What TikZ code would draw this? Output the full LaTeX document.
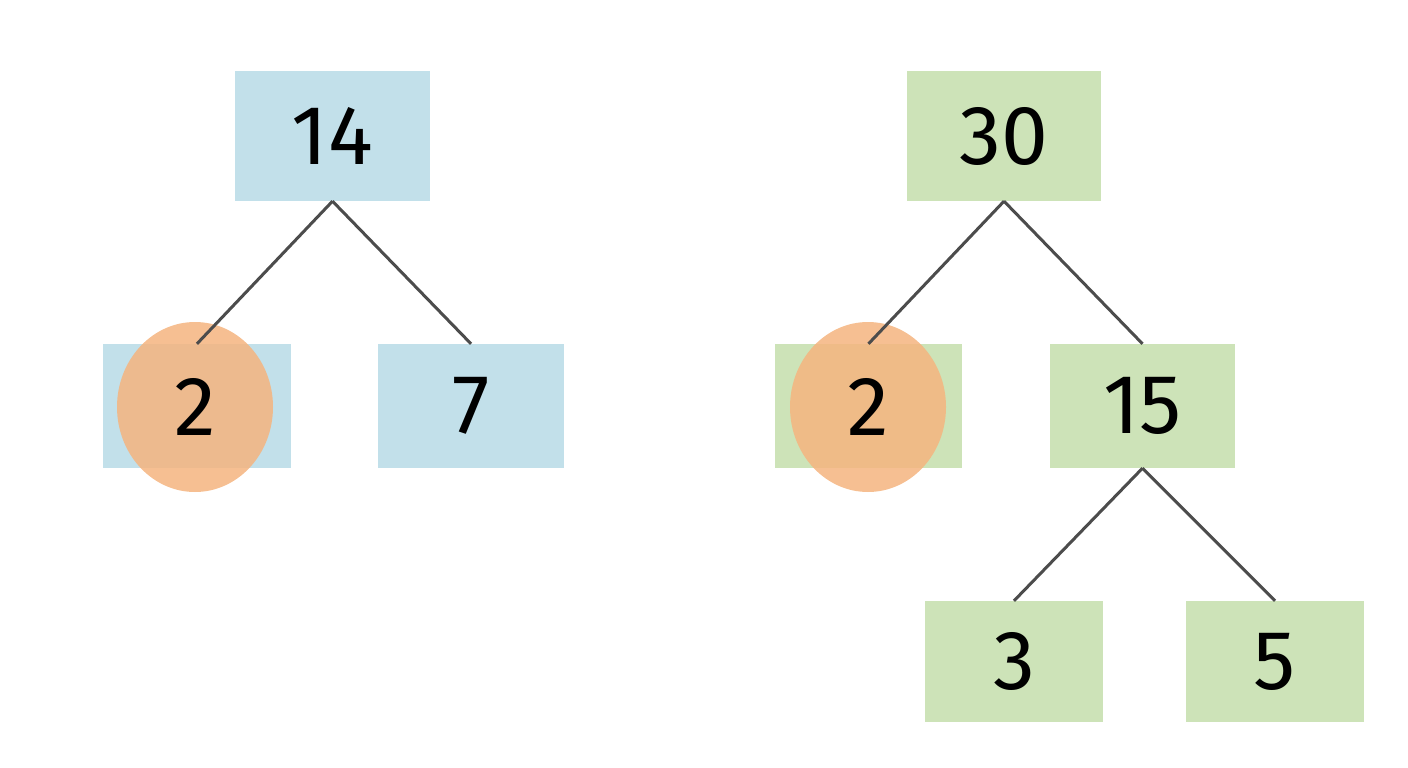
\documentclass[tikz,border=0pt]{standalone}
\usepackage{fontspec}
\setmainfont{Fira Sans}
\usetikzlibrary{shapes.geometric}
\begin{document}
\begin{tikzpicture}[x=1pt,y=-1pt,
  box/.style={draw=none,inner sep=0pt,font=\fontsize{84}{84}\selectfont},
  bl/.style={box,fill=blueB},
  gr/.style={box,fill=greenB},
  hl/.style={fill=orangeC,fill opacity=0.85,draw=none},
  edge/.style={draw=gray!60!black,line width=3pt}]
\definecolor{blueB}{HTML}{C2E0EA}
\definecolor{greenB}{HTML}{CDE3B8}
\definecolor{orangeC}{HTML}{F5B47F}
\path[use as bounding box] (0,0) rectangle (1408,768);
\node[bl,minimum width=195pt,minimum height=130pt] (a) at (332.5,136) {14};
\node[bl,minimum width=188pt,minimum height=124pt] (a2) at (197,406) {};
\node[bl,minimum width=186pt,minimum height=124pt] (a7) at (471,406) {7};
\node[gr,minimum width=194pt,minimum height=130pt] (b) at (1004,136) {30};
\node[gr,minimum width=187pt,minimum height=124pt] (b2) at (868.5,406) {};
\node[gr,minimum width=185pt,minimum height=124pt] (b15) at (1142.5,406) {15};
\node[gr,minimum width=178pt,minimum height=121pt] (b3) at (1014,661.5) {3};
\node[gr,minimum width=178pt,minimum height=121pt] (b5) at (1275,661.5) {5};
\node[hl,ellipse,minimum width=156pt,minimum height=170pt,inner sep=0pt] (c1) at (195,407) {};
\node[hl,ellipse,minimum width=156pt,minimum height=170pt,inner sep=0pt] (c2) at (868,407) {};
\node[box] (t1) at (c1) {2};
\node[box] (t2) at (c2) {2};
\draw[edge] (a.south) -- (a2.north);
\draw[edge] (a.south) -- (a7.north);
\draw[edge] (b.south) -- (b2.north);
\draw[edge] (b.south) -- (b15.north);
\draw[edge] (b15.south) -- (b3.north);
\draw[edge] (b15.south) -- (b5.north);
\end{tikzpicture}
\end{document}
